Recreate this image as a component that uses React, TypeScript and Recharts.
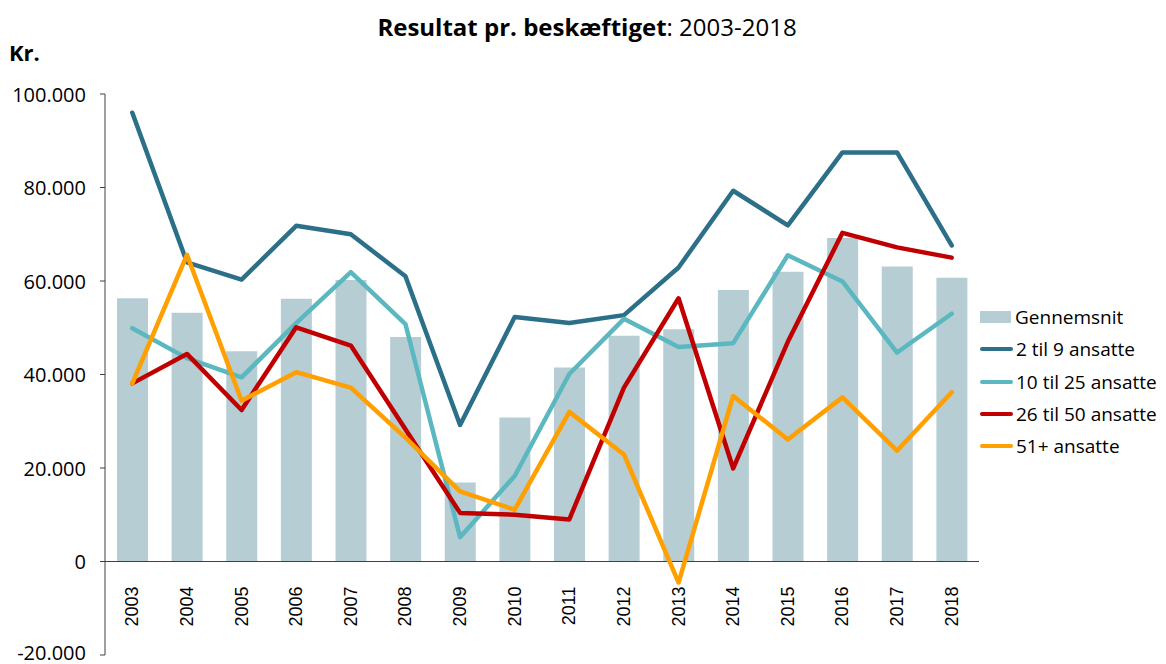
import React from 'react';
import { ComposedChart, Bar, Line, XAxis, YAxis, ReferenceLine } from 'recharts';

const years = ['2003','2004','2005','2006','2007','2008','2009','2010','2011','2012','2013','2014','2015','2016','2017','2018'];
const gennemsnit = [56300, 53200, 45000, 56200, 60200, 48000, 16900, 30800, 41500, 48300, 49700, 58100, 62000, 69200, 63100, 60700];
const ansatte2til9 = [96000, 64000, 60300, 71800, 70000, 61000, 29200, 52300, 51000, 52700, 62900, 79300, 71900, 87500, 87500, 67600];
const ansatte10til25 = [49900, 43500, 39400, 51000, 61900, 50800, 5200, 18300, 40100, 51900, 45900, 46700, 65500, 59900, 44700, 53000];
const ansatte26til50 = [38100, 44400, 32400, 50100, 46200, 28300, 10400, 10000, 9000, 37200, 56300, 19900, 47000, 70300, 67200, 65000];
const ansatte51plus = [38100, 65600, 34400, 40500, 37200, 26500, 15000, 11100, 32000, 22900, -4500, 35400, 26100, 35100, 23700, 36200];
const yTicks = [-20000, 0, 20000, 40000, 60000, 80000, 100000];

const barName = 'Gennemsnit';
const barColor = '#B6CDD4';
const lineSeries = [
  { key: 's1', name: '2 til 9 ansatte', color: '#2C6F89', values: ansatte2til9 },
  { key: 's2', name: '10 til 25 ansatte', color: '#5BB7C0', values: ansatte10til25 },
  { key: 's3', name: '26 til 50 ansatte', color: '#C00000', values: ansatte26til50 },
  { key: 's4', name: '51+ ansatte', color: '#FF9F00', values: ansatte51plus },
];

const data = years.map((year, i) => {
  const row: any = { year, avg: gennemsnit[i] };
  lineSeries.forEach((s) => { row[s.key] = s.values[i]; });
  return row;
});

const W = 1166;
const H = 664;
const M_TOP = 94;
const X_AXIS_H = 9;
const Y_MIN = -20000;
const Y_MAX = 100000;
const plotH = H - M_TOP - X_AXIS_H;
const zeroShift = plotH * (0 - Y_MIN) / (Y_MAX - Y_MIN);

const fmt = (v: number) => {
  const s = String(Math.abs(v)).replace(/\B(?=(\d{3})+(?!\d))/g, '.');
  return (v < 0 ? '-' : '') + s;
};

const font = "'Open Sans', 'Noto Sans', sans-serif";

const XTick = (props: any) => {
  const { x, y, payload } = props;
  const ay = y - zeroShift + 17;
  return (
    <text
      x={x}
      y={ay}
      transform={`rotate(-90, ${x}, ${ay})`}
      textAnchor="end"
      dominantBaseline="central"
      fontFamily="'Liberation Sans', Arial, sans-serif"
      fontSize={18}
      fill="#000"
    >
      {payload.value}
    </text>
  );
};

const YTick = (props: any) => {
  const { x, y, payload } = props;
  const ty = Math.min(y, H - 12);
  return (
    <text x={x} y={ty} textAnchor="end" dominantBaseline="central" fontFamily={font} fontSize={20} fill="#000">
      {fmt(payload.value)}
    </text>
  );
};

export default function App() {
  return (
    <div style={{ position: 'absolute', left: 0, top: 0, width: W, height: H, background: '#fff', fontFamily: font }}>
      <div style={{ position: 'absolute', left: 0, width: W + 8, top: 10, textAlign: 'center', fontSize: 24, color: '#000' }}>
        <span style={{ fontWeight: 700 }}>Resultat pr. beskæftiget</span>: 2003-2018
      </div>
      <div style={{ position: 'absolute', left: 9, top: 37, fontSize: 22, fontWeight: 700, color: '#000' }}>Kr.</div>
      <ComposedChart width={W} height={H} data={data} margin={{ top: M_TOP, right: 187, bottom: 0, left: 0 }}>
        <XAxis dataKey="year" axisLine={false} tickLine={false} height={X_AXIS_H} tick={XTick} interval={0} />
        <YAxis
          width={105}
          domain={[Y_MIN, Y_MAX]}
          ticks={yTicks}
          axisLine={{ stroke: '#404040', strokeWidth: 1 }}
          tickLine={{ stroke: '#404040', strokeWidth: 1 }}
          tickSize={5}
          tickMargin={14}
          tick={YTick}
          interval={0}
        />
        <Bar dataKey="avg" name={barName} fill={barColor} barSize={31} isAnimationActive={false} />
        <ReferenceLine y={0} stroke="#404040" strokeWidth={1} />
        {lineSeries.map((s) => (
          <Line
            key={s.key}
            type="linear"
            dataKey={s.key}
            name={s.name}
            stroke={s.color}
            strokeWidth={4.5}
            dot={false}
            activeDot={false}
            strokeLinejoin="round"
            strokeLinecap="round"
            isAnimationActive={false}
          />
        ))}
      </ComposedChart>
      <div style={{ position: 'absolute', left: 980, top: 301, fontSize: 19, color: '#000' }}>
        <div style={{ display: 'flex', alignItems: 'center', height: 32.3 }}>
          <div style={{ width: 31, height: 12, background: barColor, marginRight: 4 }} />
          <span>{barName}</span>
        </div>
        {lineSeries.map((s) => (
          <div key={s.key} style={{ display: 'flex', alignItems: 'center', height: 32.3 }}>
            <div style={{ width: 33, height: 4, borderRadius: 2, background: s.color, marginRight: 3 }} />
            <span>{s.name}</span>
          </div>
        ))}
      </div>
    </div>
  );
}
